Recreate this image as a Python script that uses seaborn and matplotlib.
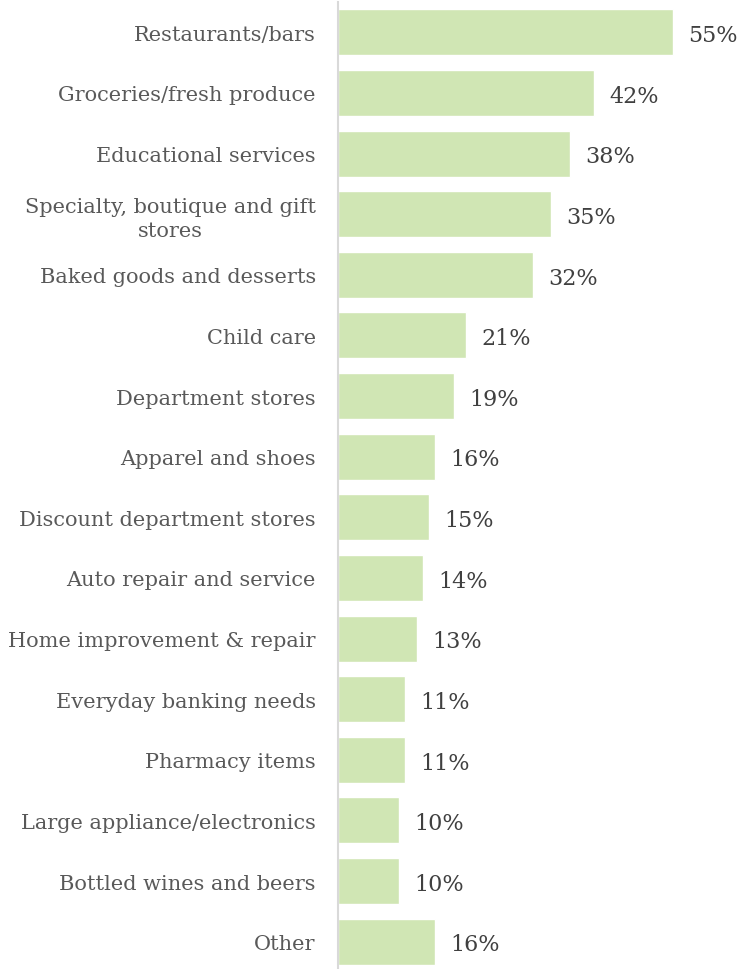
import matplotlib
matplotlib.use("Agg")
import matplotlib.pyplot as plt
import seaborn as sns
import pandas as pd

categories = [
    "Restaurants/bars",
    "Groceries/fresh produce",
    "Educational services",
    "Specialty, boutique and gift\nstores",
    "Baked goods and desserts",
    "Child care",
    "Department stores",
    "Apparel and shoes",
    "Discount department stores",
    "Auto repair and service",
    "Home improvement & repair",
    "Everyday banking needs",
    "Pharmacy items",
    "Large appliance/electronics",
    "Bottled wines and beers",
    "Other",
]
shares = [55, 42, 38, 35, 32, 21, 19, 16, 15, 14, 13, 11, 11, 10, 10, 16]

df = pd.DataFrame({"category": categories, "share": shares})

sns.set_theme(style="white")
plt.rcParams["font.family"] = ["DejaVu Serif"]

fig = plt.figure(figsize=(7.4, 9.7), dpi=100)
ax = fig.add_axes([338 / 740, -3 / 970, 396 / 740, 1.0])

sns.barplot(data=df, x="share", y="category", orient="h", color="#D0E6B4",
            saturation=1, width=0.76, ax=ax)

ax.set_xlim(0, 65)
ax.set_ylim(15.5, -0.5)
ax.set_xlabel("")
ax.set_ylabel("")
ax.set_xticks([])

for side in ["top", "right", "bottom"]:
    ax.spines[side].set_visible(False)
ax.spines["left"].set_color("#D9D9D9")
ax.spines["left"].set_linewidth(1.5)

ax.tick_params(axis="y", length=0, pad=16, labelsize=15, labelcolor="#595959")
for lbl in ax.get_yticklabels():
    lbl.set_multialignment("center")
    lbl.set_linespacing(1.3)

for i, v in enumerate(shares):
    ax.annotate(f"{v}%", xy=(v, i), xytext=(11, -2), textcoords="offset points",
                ha="left", va="center", fontsize=16, color="#404040")

fig.savefig("out.png", dpi=100)
